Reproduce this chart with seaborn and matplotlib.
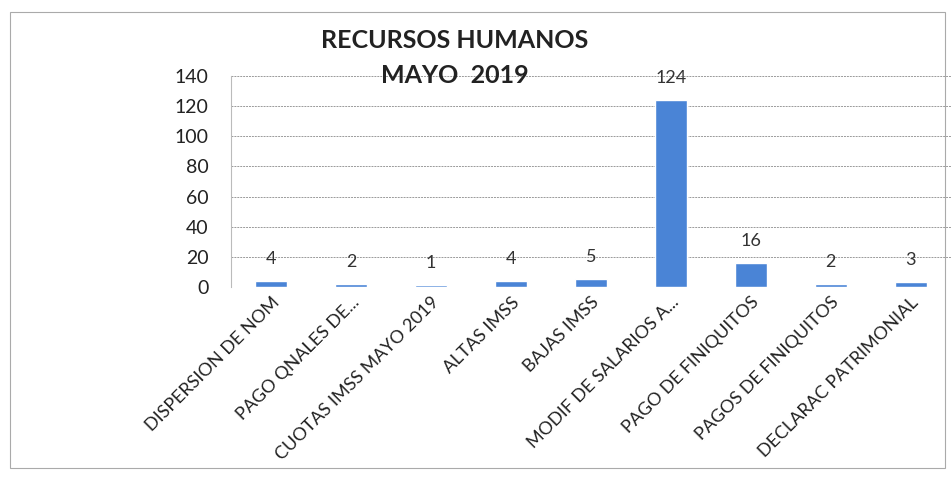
import matplotlib
matplotlib.use("Agg")
import matplotlib.pyplot as plt
import seaborn as sns
import pandas as pd
from matplotlib.patches import Rectangle

categorias = ["DISPERSION DE NOM", "PAGO QNALES DE...", "CUOTAS IMSS MAYO 2019",
              "ALTAS IMSS", "BAJAS IMSS", "MODIF DE SALARIOS A...",
              "PAGO DE FINIQUITOS", "PAGOS DE FINIQUITOS", "DECLARAC PATRIMONIAL"]
valores = [4, 2, 1, 4, 5, 124, 16, 2, 3]
yticks = [0, 20, 40, 60, 80, 100, 120, 140]

df = pd.DataFrame({"cat": categorias, "val": valores})

sns.set_style("white")
plt.rcParams["font.family"] = ["Lato", "DejaVu Sans"]

fig = plt.figure(figsize=(9.53, 4.78), dpi=100)
ax = fig.add_axes([0.2424, 0.3996, 0.755, 0.4414])

sns.barplot(data=df, x="cat", y="val", color="#4a84d6", width=0.4, ax=ax, saturation=1)

# etiquetas de valor sobre cada barra
for i, v in enumerate(valores):
    ax.annotate(str(v), (i, v), xytext=(0, 16), textcoords="offset points",
                ha="center", va="center", fontsize=13, color="#333333")

ax.set_ylim(0, 140)
ax.set_yticks(yticks)
ax.set_xlim(-0.5, len(categorias) - 0.5)
ax.tick_params(axis="y", labelsize=14, length=0, pad=16, colors="#222222")
ax.tick_params(axis="x", labelsize=13, length=0, pad=5, colors="#222222")
plt.setp(ax.get_xticklabels(), rotation=45, ha="right", rotation_mode="anchor")
ax.set_xlabel("")
ax.set_ylabel("")
ax.yaxis.grid(True, color="#9a9a9a", linestyle=(0, (2, 1)), linewidth=0.7)
ax.set_axisbelow(True)
for s in ["top", "right", "bottom"]:
    ax.spines[s].set_visible(False)
ax.spines["left"].set_color("#bbbbbb")
ax.spines["left"].set_linewidth(0.8)

fig.text(0.477, 0.915, "RECURSOS HUMANOS", ha="center", va="center",
         fontsize=18, fontweight="bold", color="#222222")
fig.text(0.477, 0.843, "MAYO  2019", ha="center", va="center",
         fontsize=18, fontweight="bold", color="#222222")

fig.patches.append(Rectangle((0.01, 0.02), 0.982, 0.955, transform=fig.transFigure,
                             fill=False, edgecolor="#aaaaaa", linewidth=0.8))

fig.savefig("out.png", dpi=100)
